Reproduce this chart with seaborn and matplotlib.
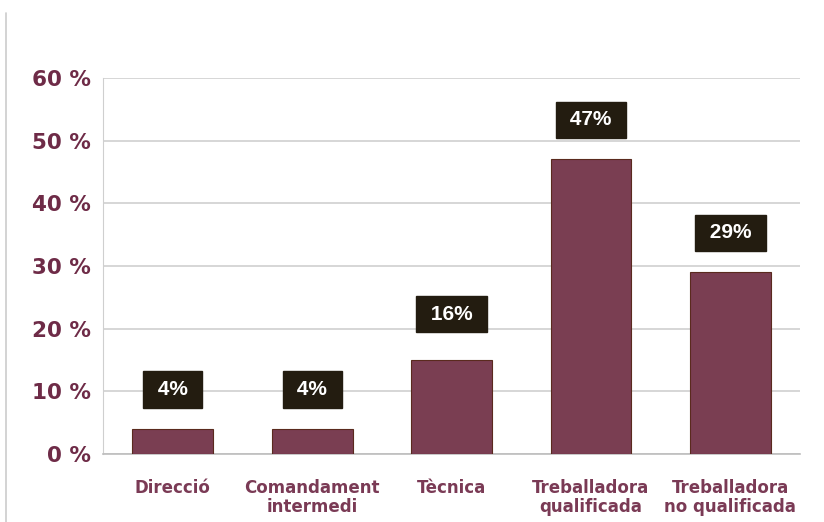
import matplotlib
matplotlib.use("Agg")
import matplotlib.pyplot as plt
import seaborn as sns
import pandas as pd
from matplotlib.lines import Line2D

# categories, bar heights and the printed labels
categories = ["Direcció", "Comandament\nintermedi", "Tècnica",
              "Treballadora\nqualificada", "Treballadora\nno qualificada"]
values = [4, 4, 15, 47, 29]
labels = ["4%", "4%", "16%", "47%", "29%"]
label_values = [4, 4, 16, 47, 29]
yticks = [0, 10, 20, 30, 40, 50, 60]

df = pd.DataFrame({"cat": categories, "val": values})

sns.set_style("white")
plt.rcParams["font.family"] = ["Liberation Sans", "DejaVu Sans"]

fig = plt.figure(figsize=(8.24, 5.22), dpi=100)
ax = fig.add_axes([0.125, 0.1303, 0.846, 0.7203])

sns.barplot(data=df, x="cat", y="val", color="#7a3e52", saturation=1,
            width=0.58, edgecolor="#5a2a1e", linewidth=0.8, ax=ax, zorder=3)

ax.set_xlim(-0.5, 4.5)
ax.set_ylim(0, 60)
ax.set_yticks(yticks)
ax.set_yticklabels([f"{t} %" for t in yticks], fontsize=15.5, fontweight="heavy",
                   color="#6e2b47", family="DejaVu Sans")
ax.tick_params(axis="y", length=0, pad=9)
ax.tick_params(axis="x", length=0, pad=18)
for t in ax.get_xticklabels():
    t.set_fontsize(12)
    t.set_fontweight("bold")
    t.set_family("DejaVu Sans")
    t.set_color("#7a3a55")
    t.set_linespacing(1.1)
ax.set_xlabel("")
ax.set_ylabel("")

ax.yaxis.grid(True, color="#cfcfcf", linewidth=1.2, zorder=0)
ax.set_axisbelow(True)
for s in ["top", "right"]:
    ax.spines[s].set_visible(False)
ax.spines["left"].set_color("#cfcfcf")
ax.spines["bottom"].set_color("#bdbdbd")
ax.spines["bottom"].set_linewidth(1.2)

# value labels in dark boxes
for i, (lab, v) in enumerate(zip(labels, label_values)):
    ax.text(i, v + 6.3, f" {lab} ", ha="center", va="center", fontsize=15,
            fontweight="bold", color="white", zorder=5,
            bbox=dict(boxstyle="square,pad=0.42", fc="#231c10", ec="#231c10"))

# thin frame line at the left edge of the figure
fig.add_artist(Line2D([0.0075, 0.0075], [0.0, 0.975], color="#cccccc",
                      linewidth=1.2, transform=fig.transFigure))

fig.savefig("out.png", dpi=100)
